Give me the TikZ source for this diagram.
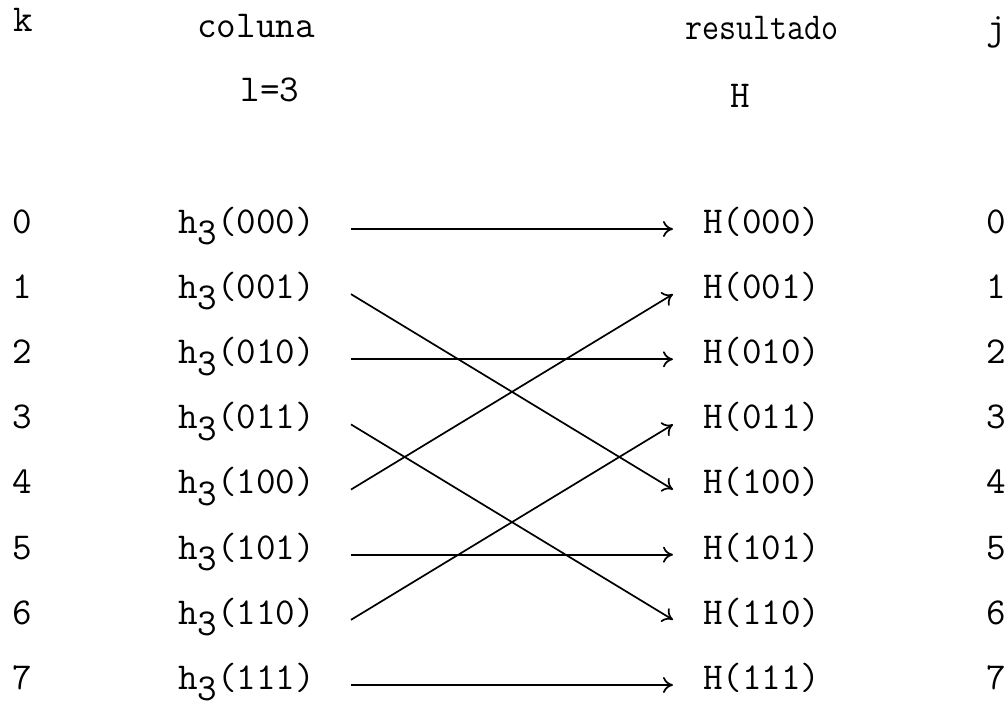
\documentclass[tikz,border=0pt]{standalone}
\usepackage{fontspec}
\usetikzlibrary{arrows.meta}
\begin{document}
\begin{tikzpicture}[x=0.5pt,y=-0.5pt,
  lbl/.style={font=\fontsize{19}{22}\selectfont\ttfamily, inner sep=0pt},
  src/.style={lbl, anchor=mid west, outer xsep=18pt, outer ysep=0pt},
  dst/.style={lbl, anchor=mid west, outer xsep=15pt, outer ysep=0pt},
  idx/.style={lbl, anchor=mid},
  conn/.style={line width=0.85pt, -{To[length=5pt,width=8pt]}}]
\useasboundingbox (0,0) rectangle (1007,706);
% headers
\node[idx] (hk) at (23,27) {k};
\node[idx] (hcol) at (256,33) {coluna};
\node[idx] (hl) at (270,97) {l=3};
\node[idx] (hres) at (762,35) {\scalebox{0.87}[1]{resultado}};
\node[idx] (hH) at (740,103) {H};
\node[idx] (hj) at (996,35) {j};
% rows
\foreach \i/\b in {0/000,1/001,2/010,3/011,4/100,5/101,6/110,7/111}{
  \node[idx] (k\i) at (22,229+65.14*\i) {\i};
  \node[src] (h\i) at (142,229+65.14*\i) {h\raisebox{-0.7ex}{3}(\b)};
  \node[dst] (H\i) at (673,229+65.14*\i) {H(\b)};
  \node[idx] (j\i) at (996,229+65.14*\i) {\i};
}
% connectors (bit reversal)
\foreach \a/\b in {0/0,1/4,2/2,3/6,4/1,5/5,6/3,7/7}
  \draw[conn] (h\a.mid east) -- (H\b.mid west);
\end{tikzpicture}
\end{document}
